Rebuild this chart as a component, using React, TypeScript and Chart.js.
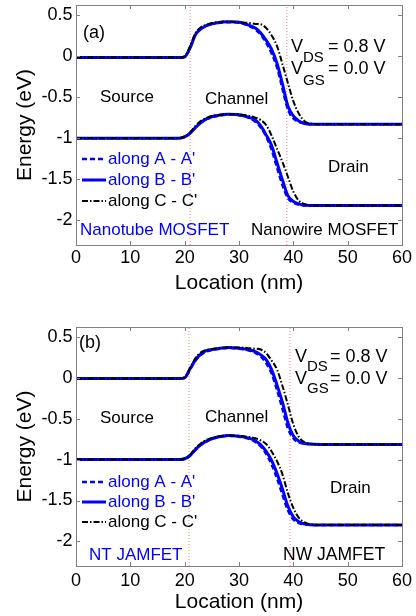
import React, { useEffect, useRef } from "react";
import { Chart, registerables } from "chart.js";
Chart.register(...registerables);

const FONT = '"Liberation Sans", Arial, Helvetica, sans-serif';
const BLUE = "#0000ff";

// ---------- data ----------
const locationNm = [0, 19, 20, 21, 22, 23, 24, 25, 26, 28, 30, 32, 33, 34, 35, 36, 37, 38, 39, 40, 41, 42, 43, 45, 60];
const xTickValues = [0, 10, 20, 30, 40, 50, 60];
const yTickValues = [0.5, 0, -0.5, -1, -1.5, -2];
const seriesLabels = ["along A - A'", "along B - B'", "along C - C'"];

// panel (a) MOSFET
const aTopA = [-0.02, -0.02, -0.01, 0.10, 0.26, 0.33, 0.37, 0.39, 0.40, 0.41, 0.405, 0.36, 0.32, 0.26, 0.16, 0.03, -0.14, -0.40, -0.65, -0.76, -0.80, -0.82, -0.828, -0.83, -0.83];
const aTopB = [-0.02, -0.02, -0.01, 0.10, 0.26, 0.33, 0.37, 0.39, 0.405, 0.415, 0.41, 0.37, 0.34, 0.28, 0.19, 0.08, -0.09, -0.34, -0.61, -0.73, -0.79, -0.82, -0.83, -0.83, -0.83];
const aTopC = [-0.02, -0.02, -0.005, 0.12, 0.28, 0.35, 0.38, 0.40, 0.41, 0.42, 0.41, 0.40, 0.39, 0.385, 0.34, 0.25, 0.12, -0.10, -0.33, -0.55, -0.70, -0.79, -0.82, -0.83, -0.83];
const aBotA = [-1.0, -1.0, -0.985, -0.94, -0.87, -0.81, -0.77, -0.745, -0.73, -0.715, -0.72, -0.76, -0.80, -0.87, -0.98, -1.14, -1.36, -1.57, -1.73, -1.785, -1.81, -1.82, -1.82, -1.82, -1.82];
const aBotB = [-1.0, -1.0, -0.985, -0.94, -0.87, -0.81, -0.765, -0.74, -0.725, -0.71, -0.715, -0.75, -0.78, -0.85, -0.96, -1.09, -1.30, -1.51, -1.70, -1.77, -1.80, -1.815, -1.82, -1.82, -1.82];
const aBotC = [-1.0, -1.0, -0.98, -0.93, -0.85, -0.79, -0.755, -0.73, -0.72, -0.705, -0.71, -0.73, -0.75, -0.78, -0.84, -0.97, -1.13, -1.29, -1.47, -1.65, -1.76, -1.80, -1.815, -1.82, -1.82];
const aBoundaries = [21, 38.8];

// panel (b) JAMFET
const bTopA = [-0.01, -0.01, 0.0, 0.10, 0.21, 0.28, 0.32, 0.34, 0.35, 0.365, 0.355, 0.33, 0.305, 0.26, 0.18, 0.05, -0.15, -0.38, -0.62, -0.74, -0.79, -0.805, -0.81, -0.815, -0.815];
const bTopB = [-0.01, -0.01, 0.0, 0.11, 0.22, 0.29, 0.33, 0.345, 0.355, 0.37, 0.36, 0.34, 0.32, 0.28, 0.22, 0.10, -0.09, -0.30, -0.55, -0.71, -0.775, -0.80, -0.81, -0.815, -0.815];
const bTopC = [-0.01, -0.01, 0.005, 0.12, 0.24, 0.31, 0.34, 0.35, 0.36, 0.37, 0.37, 0.36, 0.355, 0.345, 0.30, 0.21, 0.10, -0.10, -0.33, -0.57, -0.72, -0.785, -0.805, -0.815, -0.815];
const bBotA = [-1.0, -1.0, -0.99, -0.95, -0.88, -0.82, -0.78, -0.75, -0.73, -0.71, -0.72, -0.75, -0.785, -0.84, -0.93, -1.06, -1.23, -1.43, -1.62, -1.73, -1.775, -1.79, -1.797, -1.80, -1.80];
const bBotB = [-1.0, -1.0, -0.99, -0.95, -0.875, -0.815, -0.775, -0.745, -0.725, -0.705, -0.715, -0.74, -0.77, -0.82, -0.90, -1.01, -1.17, -1.36, -1.57, -1.70, -1.76, -1.785, -1.795, -1.80, -1.80];
const bBotC = [-1.0, -1.0, -0.985, -0.94, -0.86, -0.80, -0.76, -0.735, -0.72, -0.705, -0.71, -0.725, -0.74, -0.765, -0.81, -0.90, -1.02, -1.18, -1.41, -1.59, -1.71, -1.765, -1.79, -1.80, -1.80];
const bBoundaries = [20.8, 39.4];

const Y_MIN = -2.3;
const Y_MAX = 0.62;

// ---------- styles ----------
const styleA = { color: BLUE, dash: [5, 3], width: 2.5 };
const styleB = { color: BLUE, dash: [] as number[], width: 3 };
const styleC = { color: "#000000", dash: [6, 2, 1.5, 2], width: 2 };
const seriesStyles = [styleA, styleB, styleC];

type TextItem = { t: string; x: number; y: number; size: number; color?: string };

type Panel = {
  canvasTop: number;
  height: number;
  padTop: number;
  xAxisH: number;
  xTickPad: number;
  xTitlePad: number;
  top: number[][];
  bottom: number[][];
  boundaries: number[];
  texts: TextItem[];
  legendY: number[];
};

const panels: Panel[] = [
  {
    canvasTop: 0,
    height: 308,
    padTop: 5,
    xAxisH: 63,
    xTickPad: 2.5,
    xTitlePad: 12,
    top: [aTopA, aTopB, aTopC],
    bottom: [aBotA, aBotB, aBotC],
    boundaries: aBoundaries,
    legendY: [159, 180, 201],
    texts: [
      { t: "(a)", x: 83, y: 33, size: 18 },
      { t: "V", x: 291, y: 47, size: 18 },
      { t: "DS", x: 303, y: 58, size: 15 },
      { t: "= 0.8 V", x: 328, y: 47, size: 18 },
      { t: "V", x: 291, y: 69, size: 18 },
      { t: "GS", x: 303, y: 81, size: 15 },
      { t: "= 0.0 V", x: 328, y: 69, size: 18 },
      { t: "Source", x: 100, y: 97, size: 17 },
      { t: "Channel", x: 205, y: 99, size: 17 },
      { t: "Drain", x: 328, y: 167, size: 17 },
      { t: "Nanotube MOSFET", x: 80, y: 230, size: 17, color: BLUE },
      { t: "Nanowire MOSFET", x: 251, y: 230, size: 17 },
    ],
  },
  {
    canvasTop: 308,
    height: 308,
    padTop: 19,
    xAxisH: 50,
    xTickPad: 4,
    xTitlePad: 1.5,
    top: [bTopA, bTopB, bTopC],
    bottom: [bBotA, bBotB, bBotC],
    boundaries: bBoundaries,
    legendY: [174, 194, 214],
    texts: [
      { t: "(b)", x: 79, y: 35, size: 18 },
      { t: "V", x: 295, y: 49, size: 18 },
      { t: "DS", x: 307, y: 59, size: 15 },
      { t: "= 0.8 V", x: 330, y: 49, size: 18 },
      { t: "V", x: 295, y: 71, size: 18 },
      { t: "GS", x: 307, y: 81, size: 15 },
      { t: "= 0.0 V", x: 330, y: 71, size: 18 },
      { t: "Source", x: 100, y: 110, size: 17 },
      { t: "Channel", x: 205, y: 109, size: 17 },
      { t: "Drain", x: 330, y: 180, size: 17 },
      { t: "NT JAMFET", x: 89, y: 247, size: 17, color: BLUE },
      { t: "NW JAMFET", x: 283, y: 247, size: 17.5 },
    ],
  },
];

function makeDecorPlugin(panel: Panel) {
  return {
    id: "decor",
    afterDraw(chart: any) {
      const ctx = chart.ctx as CanvasRenderingContext2D;
      const { left, right, top, bottom } = chart.chartArea;
      const xs = chart.scales.x;
      const ys = chart.scales.y;
      ctx.save();
      // frame
      ctx.strokeStyle = "#808080";
      ctx.lineWidth = 1;
      ctx.setLineDash([]);
      ctx.strokeRect(Math.round(left) + 0.5, Math.round(top) + 0.5, Math.round(right - left), Math.round(bottom - top));
      // inward ticks
      const tl = 4;
      ctx.beginPath();
      xTickValues.forEach((v) => {
        const px = Math.round(xs.getPixelForValue(v)) + 0.5;
        ctx.moveTo(px, bottom);
        ctx.lineTo(px, bottom - tl);
        ctx.moveTo(px, top);
        ctx.lineTo(px, top + tl);
      });
      yTickValues.forEach((v) => {
        const py = Math.round(ys.getPixelForValue(v)) + 0.5;
        ctx.moveTo(left, py);
        ctx.lineTo(left + tl, py);
        ctx.moveTo(right, py);
        ctx.lineTo(right - tl, py);
      });
      ctx.stroke();

      // texts
      ctx.textBaseline = "middle";
      ctx.textAlign = "left";
      panel.texts.forEach((it) => {
        ctx.font = `${it.size}px ${FONT}`;
        ctx.fillStyle = it.color || "#000";
        ctx.fillText(it.t, it.x, it.y);
      });

      // legend
      seriesLabels.forEach((lab, i) => {
        const st = seriesStyles[i];
        const y = panel.legendY[i];
        ctx.beginPath();
        ctx.strokeStyle = st.color;
        ctx.lineWidth = st.width;
        ctx.setLineDash(st.dash);
        ctx.moveTo(82, y);
        ctx.lineTo(106, y);
        ctx.stroke();
        ctx.setLineDash([]);
        ctx.font = `17px ${FONT}`;
        ctx.fillStyle = st.color;
        ctx.fillText(lab, 108, y);
      });
      ctx.restore();
    },
  };
}

function buildDatasets(panel: Panel) {
  const ds: any[] = [];
  const orders = [1, 2, 0];
  [panel.top, panel.bottom].forEach((band) => {
    band.forEach((vals, i) => {
      const st = seriesStyles[i];
      ds.push({
        label: seriesLabels[i],
        data: locationNm.map((x, k) => ({ x, y: vals[k] })),
        borderColor: st.color,
        borderWidth: st.width,
        borderDash: st.dash,
        pointRadius: 0,
        fill: false,
        cubicInterpolationMode: "monotone",
        order: orders[i],
      });
    });
  });
  panel.boundaries.forEach((b) => {
    ds.push({
      label: "boundary",
      data: [
        { x: b, y: Y_MIN },
        { x: b, y: Y_MAX },
      ],
      borderColor: "rgba(255,80,80,0.75)",
      borderWidth: 1,
      borderDash: [1, 2],
      pointRadius: 0,
      fill: false,
      order: 5,
    });
  });
  return ds;
}

function PanelChart({ panel }: { panel: Panel }) {
  const ref = useRef<HTMLCanvasElement | null>(null);
  useEffect(() => {
    if (!ref.current) return;
    const chart = new Chart(ref.current, {
      type: "line",
      data: { datasets: buildDatasets(panel) },
      options: {
        responsive: false,
        maintainAspectRatio: false,
        animation: false,
        layout: { padding: { left: 0, right: 14, top: panel.padTop, bottom: 0 } },
        plugins: { legend: { display: false }, tooltip: { enabled: false } },
        elements: { point: { radius: 0 } },
        scales: {
          x: {
            type: "linear",
            min: 0,
            max: 60,
            afterBuildTicks: (s: any) => {
              s.ticks = xTickValues.map((v) => ({ value: v }));
            },
            afterFit: (s: any) => {
              s.height = panel.xAxisH;
              s.paddingLeft = 0;
              s.paddingRight = 0;
            },
            grid: { display: false, drawTicks: false },
            border: { display: false },
            ticks: {
              padding: panel.xTickPad,
              color: "#000",
              font: { family: FONT, size: 18 },
              maxRotation: 0,
              autoSkip: false,
              callback: (v: any) => String(v),
            },
            title: {
              display: true,
              text: "Location (nm)",
              color: "#000",
              font: { family: FONT, size: 21 },
              padding: { top: 0, bottom: panel.xTitlePad },
            },
          },
          y: {
            type: "linear",
            min: Y_MIN,
            max: Y_MAX,
            afterBuildTicks: (s: any) => {
              s.ticks = yTickValues.map((v) => ({ value: v }));
            },
            afterFit: (s: any) => {
              s.width = 76;
              s.paddingTop = 0;
              s.paddingBottom = 0;
            },
            grid: { display: false, drawTicks: false },
            border: { display: false },
            ticks: {
              padding: 3.5,
              color: "#000",
              font: { family: FONT, size: 18 },
              autoSkip: false,
              callback: (v: any) => String(v),
            },
            title: {
              display: true,
              text: "Energy (eV)",
              color: "#000",
              font: { family: FONT, size: 21 },
              padding: { top: 12.4, bottom: 0 },
            },
          },
        },
      } as any,
      plugins: [makeDecorPlugin(panel)],
    });
    return () => chart.destroy();
  }, [panel]);
  return (
    <canvas
      ref={ref}
      width={416}
      height={panel.height}
      style={{ position: "absolute", left: 0, top: panel.canvasTop, width: 416, height: panel.height }}
    />
  );
}

export default function App() {
  return (
    <div style={{ position: "absolute", left: 0, top: 0, width: 416, height: 616, background: "#fff" }}>
      {panels.map((p, i) => (
        <PanelChart key={i} panel={p} />
      ))}
    </div>
  );
}
